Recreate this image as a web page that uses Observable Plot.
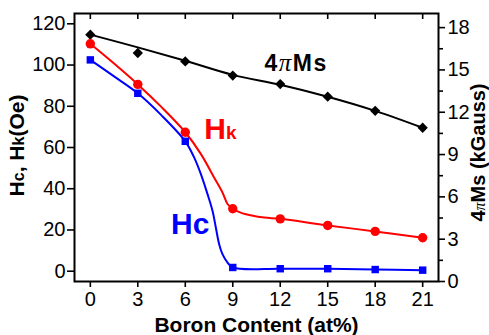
<!DOCTYPE html>
<html><head><meta charset="utf-8">
<script src="https://cdn.jsdelivr.net/npm/d3@7"></script>
<script src="https://cdn.jsdelivr.net/npm/@observablehq/plot@0.6"></script>
<style>
html,body{margin:0;padding:0;background:#fff;}
#chart svg{display:block;}
</style></head><body><div id="chart"></div>
<script>
// Boron content (at%)
const boron = [0, 3, 6, 9, 12, 15, 18, 21];
// Coercivity Hc (Oe)
const hc = [102.5, 86.3, 63, 1.8, 1.2, 1.2, 0.8, 0.5];
// Anisotropy field Hk (Oe)
const hk = [110.3, 90.6, 67.4, 30.3, 25.4, 22.2, 19.3, 16.2];
// Saturation magnetisation 4πMs (kGauss)
const ms = [17.5, 16.2, 15.6, 14.6, 14.0, 13.1, 12.1, 10.9];

// fitted curves as drawn in the figure
const hcFitX = [0, 1.5, 3, 4.5, 6, 6.55, 6.98, 7.4, 7.72, 7.93, 8.14, 8.35, 8.67, 9, 12, 15, 18, 21];
const hcFitY = [102.5, 94.5, 86.3, 75.6, 63, 55.3, 47.2, 37.5, 29.3, 21.2, 13.1, 8.3, 4.2, 1.8, 1.2, 1.2, 0.8, 0.5];
const hkFitX = [0, 1.5, 3, 4.5, 6, 6.98, 7.82, 8.35, 8.67, 9, 9.5, 10.2, 11, 12, 15, 18, 21];
const hkFitY = [110.3, 100.7, 90.6, 79.6, 67.4, 56.9, 45.5, 38.2, 32.6, 30.3, 28.4, 27.0, 26.0, 25.4, 22.2, 19.3, 16.2];
const msFitY = [17.5, 16.6, 15.65, 14.65, 13.95, 13.1, 12.1, 10.9];

// axis ticks
const xTicks = [0, 3, 6, 9, 12, 15, 18, 21];
const leftTicks = [0, 20, 40, 60, 80, 100, 120];
const rightTicks = [0, 3, 6, 9, 12, 15, 18];
const rightMinor = [1.5, 4.5, 7.5, 10.5, 13.5, 16.5];

// annotation labels (anchor in data units of x / left axis)
const labelText = ["4πMs", "Hk", "Hc"];
const labelX = [11.0, 7.2, 5.1];
const labelY = [97.3, 64.1, 18.1];

const yDomain = [-5, 125];
const rDomain = [0, 19];
const toLeft = r => yDomain[0] + (r - rDomain[0]) * (yDomain[1] - yDomain[0]) / (rDomain[1] - rDomain[0]);
const fromLeft = l => rDomain[0] + (l - yDomain[0]) * (rDomain[1] - rDomain[0]) / (yDomain[1] - yDomain[0]);

const pts = boron.map((b, i) => ({b, hc: hc[i], hk: hk[i], ms: toLeft(ms[i]), msFit: toLeft(msFitY[i])}));
const hcFit = hcFitX.map((x, i) => ({x, y: hcFitY[i]}));
const hkFit = hkFitX.map((x, i) => ({x, y: hkFitY[i]}));
const labels = labelText.map((t, i) => ({t, x: labelX[i], y: labelY[i]}));

const RED = "#ff0000", BLUE = "#0000ff";

const plot = Plot.plot({
  width: 489, height: 335,
  marginLeft: 74, marginRight: 51, marginTop: 13, marginBottom: 54,
  style: {fontFamily: "'Liberation Sans', Arial, sans-serif", background: "#fff", color: "#000"},
  x: {domain: [-1, 22]},
  y: {domain: yDomain},
  marks: [
    Plot.axisX({ticks: xTicks, tickSize: 6, tickPadding: 4, fontSize: 20, label: null, strokeWidth: 1.6}),
    Plot.axisX({anchor: "top", ticks: xTicks, tickSize: 5, dy: 5, tickFormat: () => "", label: null, strokeWidth: 1.6}),
    Plot.axisY({ticks: leftTicks, tickSize: 7, tickPadding: 2, fontSize: 20, label: null, strokeWidth: 1.6}),
    Plot.axisY({anchor: "right", ticks: rightTicks.map(toLeft), tickFormat: v => String(Math.round(fromLeft(v))), tickSize: 6, tickPadding: 3, fontSize: 20, label: null, strokeWidth: 1.6}),
    Plot.axisY({anchor: "right", ticks: rightMinor.map(toLeft), tickFormat: () => "", tickSize: 4, label: null, strokeWidth: 1.6}),
    Plot.frame({strokeWidth: 2}),
    Plot.line(pts, {x: "b", y: "msFit", stroke: "#000", strokeWidth: 2, curve: "catmull-rom"}),
    Plot.line(hkFit, {x: "x", y: "y", stroke: RED, strokeWidth: 2, curve: "catmull-rom"}),
    Plot.line(hcFit, {x: "x", y: "y", stroke: BLUE, strokeWidth: 2, curve: "catmull-rom"}),
    Plot.dot(pts, {x: "b", y: "ms", symbol: "square", r: 4.1, rotate: 45, fill: "#000", stroke: "none"}),
    Plot.dot(pts, {x: "b", y: "hk", symbol: "circle", r: 4.7, fill: RED, stroke: "none"}),
    Plot.dot(pts, {x: "b", y: "hc", symbol: "square", r: 4.2, fill: BLUE, stroke: "none"}),
    Plot.text(labels, {x: "x", y: "y", text: "t", textAnchor: "start", lineAnchor: "bottom", fontWeight: "bold",
      fill: d => d.t === "Hk" ? RED : d.t === "Hc" ? BLUE : "#000",
      fontSize: d => d.t === "4πMs" ? 23 : 30}),
    Plot.text(["Boron Content (at%)"], {frameAnchor: "bottom", textAnchor: "middle", lineAnchor: "bottom", dy: 50, fontSize: 21, fontWeight: "bold"}),
    Plot.text(["Hc, Hk(Oe)"], {frameAnchor: "left", textAnchor: "middle", rotate: -90, dx: -57, dy: -2, fontSize: 21, fontWeight: "bold"}),
    Plot.text(["4πMs (kGauss)"], {frameAnchor: "right", textAnchor: "middle", rotate: -90, dx: 40, dy: 5, fontSize: 20, fontWeight: "bold"})
  ]
});

function rich(svg, content, parts, extra) {
  d3.select(svg).selectAll("text").filter(function() { return this.textContent === content; }).each(function() {
    const t = d3.select(this);
    t.text(null);
    if (extra) for (const k in extra) t.style(k, extra[k]);
    for (const [s, st] of parts) {
      const ts = t.append("tspan").text(s);
      if (st) for (const k in st) ts.style(k, st[k]);
    }
  });
}
const PI = {"font-family": "'Liberation Serif', 'Times New Roman', serif", "font-style": "italic", "font-weight": "normal"};
rich(plot, "Hk", [["H"], ["k", {"font-size": "19px"}]]);
rich(plot, "4πMs", [["4"], ["π", {...PI, "font-size": "25px"}], ["Ms"]], {"letter-spacing": "1.5px"});
rich(plot, "Hc, Hk(Oe)", [["H"], ["c", {"font-size": "16px"}], [", H"], ["k", {"font-size": "16px"}], ["(Oe)"]]);
rich(plot, "4πMs (kGauss)", [["4"], ["π", {...PI, "font-size": "16px"}], ["Ms (kGauss)"]]);

document.getElementById("chart").appendChild(plot);
</script>
</body></html>
